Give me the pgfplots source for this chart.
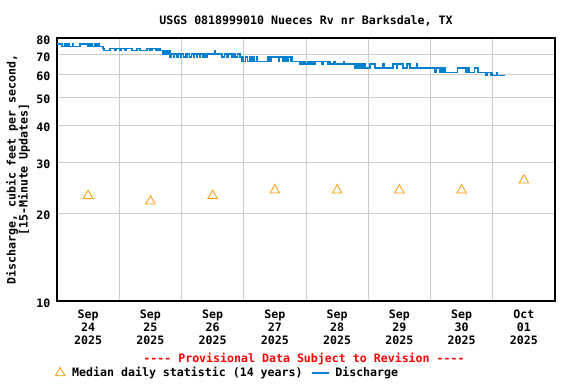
\documentclass[border=0pt]{standalone}
\usepackage{pgfplots}
\pgfplotsset{compat=1.18}
\usepackage{fontspec}
\setmonofont{DejaVu Sans Mono}
\definecolor{qblue}{RGB}{0,128,208}
\definecolor{qorange}{RGB}{255,153,0}
\definecolor{qgrid}{RGB}{204,204,204}
\newcommand\ff{\ttfamily\bfseries\fontsize{11.6pt}{13pt}\selectfont}
\newcommand\fy{\ttfamily\bfseries\fontsize{11.6pt}{12pt}\selectfont}
\begin{document}
\begin{tikzpicture}
\useasboundingbox (-57pt,-83pt) rectangle (519pt,301pt);
\begin{axis}[
  at={(0,0)}, anchor=south west,
  scale only axis, width=498pt, height=263pt,
  xmin=0, xmax=8, ymin=10, ymax=80, ymode=log,
  ytick={10,20,30,40,50,60,70,80},
  yticklabels={10,20,30,40,50,60,70,80},
  minor tick length=0pt, yminorgrids=false,
  xtick={1,2,3,4,5,6,7}, xticklabels={},
  extra x ticks={0.5,1.5,2.5,3.5,4.5,5.5,6.5,7.5},
  extra x tick labels={{Sep\\24\\2025},{Sep\\25\\2025},{Sep\\26\\2025},{Sep\\27\\2025},{Sep\\28\\2025},{Sep\\29\\2025},{Sep\\30\\2025},{Oct\\01\\2025}},
  extra x tick style={grid=none, major tick length=0pt},
  xmajorgrids, ymajorgrids,
  major grid style={qgrid, line width=1pt},
  major tick length=0pt,
  axis line style={line width=1.3pt},
  /pgf/number format/assume math mode=true,
  tick label style={font=\ff},
  x tick label style={align=center, yshift=-5pt},
  y tick label style={xshift=-3pt, yshift=-2pt},
  legend style={at={(0,0)}, anchor=west, xshift=-5pt, yshift=-72pt,
    draw=none, fill=none, font=\ff, legend columns=2,
    /tikz/every even column/.append style={column sep=7pt}},
  legend cell align=left,
]
\addplot[only marks, mark=triangle, mark size=5.5pt, mark options={draw=qorange, fill=none, line width=0.8pt},
  legend image code/.code={\path[draw=none] (-5pt,0pt) -- (10pt,0pt); \draw[qorange, line width=0.8pt] plot[mark=triangle, mark size=5.5pt, mark options={fill=none}] coordinates {(0pt,0pt)};}]
 coordinates {(0.5,23) (1.5,22) (2.5,23) (3.5,24) (4.5,24) (5.5,24) (6.5,24) (7.5,26)};
\addlegendentry{Median daily statistic (14 years)}
\addplot[qblue, line width=1.4pt, const plot, mark=none,
  legend image code/.code={\path[draw=none] (0pt,0pt) -- (21pt,0pt); \draw[draw=qblue, line width=1.3pt] (0pt,0pt) -- (17pt,0pt);}] coordinates {
(0,76.2)(0.08,74.8)(0.13,76.2)(0.145,74.8)(0.16,76.2)(0.19,74.8)(0.25,76.2)(0.265,74.8)(0.37,76.2)(0.50,74.8)(0.53,76.2)(0.56,74.8)(0.61,76.2)(0.645,74.8)(0.66,76.2)(0.675,74.8)
(0.74,73.7)(0.755,72.4)(0.85,73.7)(0.93,72.4)(0.96,73.7)(1.01,72.4)(1.04,73.7)(1.09,72.4)(1.12,73.7)(1.205,72.4)(1.285,73.7)(1.333,72.4)(1.446,73.7)(1.494,72.4)(1.526,73.7)(1.59,72.4)(1.62,73.7)
(1.655,72.4)(1.69,70.4)(1.70,72.4)(1.73,70.4)(1.75,72.4)(1.78,70.4)(1.80,72.4)
(1.815,68.8)(1.84,70.4)(1.87,68.8)(1.89,70.4)(1.93,68.8)(1.95,70.4)(1.98,68.8)(2.00,70.4)(2.03,68.8)(2.06,70.4)(2.08,68.8)(2.10,70.4)(2.13,68.8)(2.16,70.4)(2.19,68.8)(2.21,70.4)(2.24,68.8)(2.26,70.4)(2.29,68.8)(2.31,70.4)(2.34,68.8)(2.36,70.4)(2.39,68.8)(2.41,70.4)
(2.53,72.4)(2.545,70.4)
(2.651,68.8)(2.69,70.4)(2.72,68.8)(2.75,70.4)(2.80,68.8)(2.83,70.4)(2.86,68.8)(2.90,70.4)
(2.94,68.8)(2.96,66.5)(2.98,68.8)(3.00,66.5)(3.03,68.8)(3.06,66.5)(3.10,68.8)(3.115,66.5)(3.15,68.8)(3.165,66.5)(3.20,68.8)(3.215,66.5)
(3.39,68.8)(3.40,66.5)(3.42,68.8)(3.43,66.5)(3.44,68.8)(3.56,66.5)(3.575,68.8)(3.63,66.5)(3.65,68.8)(3.67,66.5)(3.69,68.8)(3.71,66.5)(3.72,68.8)(3.75,66.5)(3.76,68.8)
(3.78,66.5)(3.90,65.1)(3.92,66.5)(3.94,65.1)(3.97,66.5)(3.99,65.1)(4.02,66.5)(4.05,65.1)(4.08,66.5)(4.10,65.1)(4.11,66.5)(4.14,65.1)(4.155,66.5)(4.26,65.1)(4.275,66.5)(4.35,65.1)(4.37,66.5)(4.39,65.1)(4.45,66.5)(4.47,65.1)(4.60,66.5)(4.62,65.1)(4.66,65.1)
(4.79,63.1)(4.82,65.1)(4.85,63.1)(4.87,65.1)(4.90,63.1)(4.93,65.1)(4.96,63.1)(5.03,65.1)(5.11,63.1)(5.24,65.1)(5.255,63.1)(5.40,65.1)(5.45,63.1)(5.47,65.1)(5.56,63.1)(5.62,65.1)(5.67,63.1)(5.78,65.1)(5.795,63.1)
(6.07,60.9)(6.10,63.1)(6.15,60.9)(6.18,63.1)(6.20,60.9)(6.22,63.1)(6.24,60.9)(6.43,63.1)(6.57,60.9)(6.60,63.1)(6.63,60.9)(6.71,63.1)(6.76,60.9)
(6.89,59.6)(6.91,60.9)(6.96,59.6)(6.98,60.9)(7.00,59.6)(7.06,60.9)(7.08,59.6)(7.20,59.6)
};
\addlegendentry{Discharge}
\end{axis}
\node[font=\ff] at (249pt,280pt) {USGS 0818999010 Nueces Rv nr Barksdale, TX};
\node[font=\ff, text=red] at (247pt,-58pt) {---- Provisional Data Subject to Revision ----};
\node[font=\fy, rotate=90, align=center] at (-39pt,131.5pt) {Discharge, cubic feet per second,\\{[15-Minute Updates]}};
\end{tikzpicture}
\end{document}
